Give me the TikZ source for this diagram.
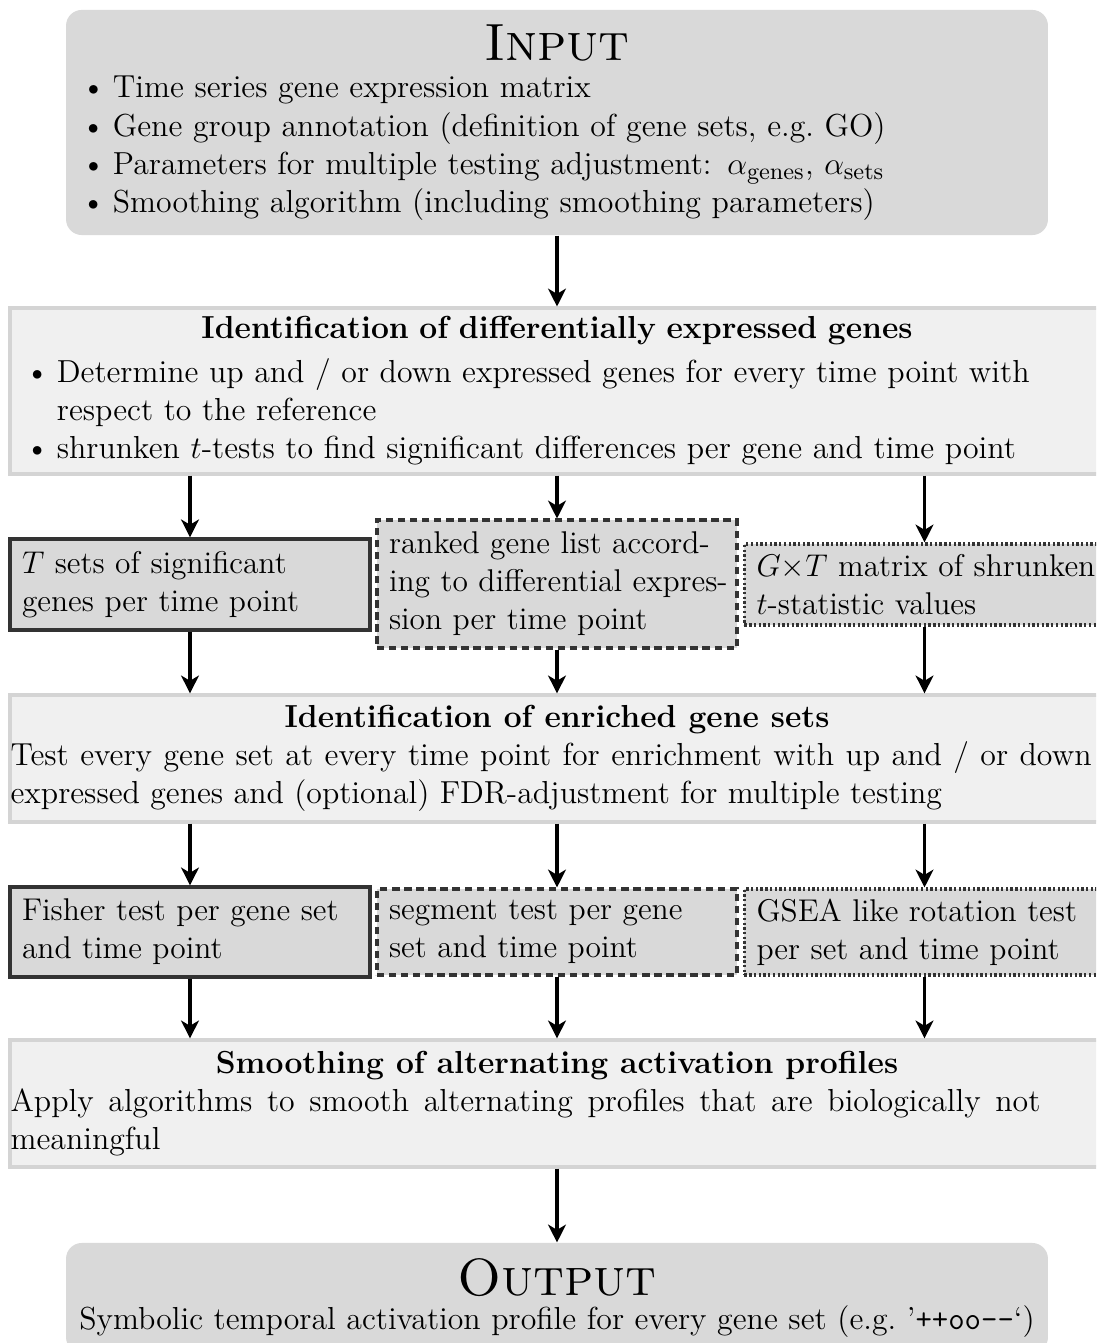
\documentclass[tikz,border=0pt]{standalone}
\usetikzlibrary{arrows.meta}
\newcommand\myitem{\noindent\hangindent=13.3pt\hangafter=1\makebox[13.3pt][l]{\hspace{1.2pt}\textbullet}}
\begin{document}
\begin{tikzpicture}[x=0.3816pt,y=-0.3816pt,
  every node/.append style={font=\fontsize{12.15}{14.6}\selectfont, inner ysep=0pt},
  termbox/.style={fill=gray!30, rounded corners=6pt, minimum width=374.7pt, text width=365.5pt, inner xsep=4.6pt, align=left},
  widebox/.style={fill=gray!12, draw=gray!34, line width=1.2pt, minimum width=417.5pt, align=left},
  flowbox/.style={widebox, minimum height=48.5pt, text width=417pt, inner xsep=0.25pt, align=justify},
  smallbox/.style={fill=gray!30, draw=black!80, line width=1.2pt, minimum width=137.4pt, text width=128.2pt, inner xsep=4.6pt, align=left, font=\fontsize{12}{14.5}\selectfont},
  solidb/.style={line width=1.3pt},
  dashb/.style={dash pattern=on 2.8pt off 1.8pt},
  dotb/.style={dash pattern=on 0.9pt off 0.9pt},
  arr/.style={-{Stealth[length=6.8pt,width=6.8pt,inset=2pt]}, line width=1.25pt, black}]
\useasboundingbox (0,0) rectangle (1096,1343);
\begin{scope}
\clip (0,0) rectangle (1096,1343);
\node[termbox, minimum height=85.9pt] (inp) at (557,122.5) {%
\vspace*{1.2pt}{\centering\fontsize{20}{24}\selectfont\textsc{Input}\par}\vspace{-1.4pt}
\myitem Time series gene expression matrix\par
\myitem Gene group annotation (definition of gene sets, e.g.\ GO)\par
\myitem Parameters for multiple testing adjustment: $\alpha_{\mathrm{genes}}$, $\alpha_{\mathrm{sets}}$\par
\myitem Smoothing algorithm (including smoothing parameters)};

\node[widebox, minimum height=63.3pt, text width=408.3pt, inner xsep=4.6pt] (de) at (557,391) {%
{\centering\textbf{Identification of differentially expressed genes}\par}\vspace{2pt}
\myitem Determine up and / or down expressed genes for every time point with\break respect to the reference\par
\myitem shrunken $t$-tests to find significant differences per gene and time point};

\node[smallbox, solidb, minimum height=34.7pt] (tsets) at (190,584.5) {\mbox{$T$ sets of significant}\\\mbox{genes per time point}};
\node[smallbox, dashb, minimum height=48.8pt] (ranked) at (557,584) {\mbox{ranked gene list accord-}\\\mbox{ing to differential expres-}\\\mbox{sion per time point}};
\node[smallbox, dotb, minimum height=30.9pt] (gxt) at (924.5,584.5) {\mbox{$G{\times}T$ matrix of shrunken}\\\mbox{$t$-statistic values}};

\node[flowbox] (enr) at (557,758.5) {%
{\centering\textbf{Identification of enriched gene sets}\par}
\noindent\parshape=2 0pt 412.5pt 0pt 412.5pt Test every gene set at every time point for enrichment with up and / or down\break expressed genes and (optional) FDR-adjustment for multiple testing\par};

\node[smallbox, solidb, minimum height=34.3pt] (fisher) at (190,932) {\mbox{Fisher test per gene set}\\\mbox{and time point}};
\node[smallbox, dashb, minimum height=32.8pt] (segment) at (557,932) {\mbox{segment test per gene}\\\mbox{set and time point}};
\node[smallbox, dotb, minimum height=32.8pt] (gsea) at (924.5,932) {\mbox{GSEA like rotation test}\\\mbox{per set and time point}};

\node[flowbox] (smooth) at (557,1103.5) {%
{\centering\textbf{Smoothing of alternating activation profiles}\par}
\noindent\parshape=2 0pt 393pt 0pt 393pt Apply algorithms to smooth alternating profiles that are biologically not\break meaningful\par};

\node[termbox, minimum height=42pt] (out) at (557,1298) {%
{\centering\fontsize{20}{24}\selectfont\textsc{Output}\par}\vspace{-1.8pt}
{\centering Symbolic temporal activation profile for every gene set (e.g.\ '\texttt{++oo-{}-}`)\par}};

\draw[arr] (inp) -- (de);
\draw[arr] (tsets |- de.south) -- (tsets);
\draw[arr] (ranked |- de.south) -- (ranked);
\draw[arr] (gxt |- de.south) -- (gxt);
\draw[arr] (tsets) -- (tsets |- enr.north);
\draw[arr] (ranked) -- (ranked |- enr.north);
\draw[arr] (gxt) -- (gxt |- enr.north);
\draw[arr] (fisher |- enr.south) -- (fisher);
\draw[arr] (segment |- enr.south) -- (segment);
\draw[arr] (gsea |- enr.south) -- (gsea);
\draw[arr] (fisher) -- (fisher |- smooth.north);
\draw[arr] (segment) -- (segment |- smooth.north);
\draw[arr] (gsea) -- (gsea |- smooth.north);
\draw[arr] (smooth) -- (out);
\end{scope}
\end{tikzpicture}
\end{document}
